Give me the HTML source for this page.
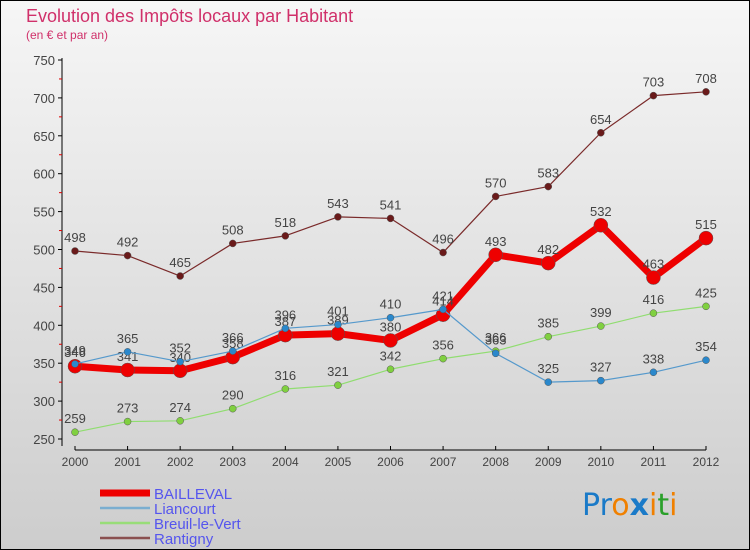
<!DOCTYPE html>
<html><head><meta charset="utf-8"><style>
body{margin:0}
svg{display:block;font-family:"Liberation Sans",sans-serif}
</style></head><body>
<svg width="750" height="550" viewBox="0 0 750 550">
<defs><linearGradient id="bg" x1="0" y1="0" x2="0" y2="1"><stop offset="0" stop-color="#f6f6f6"/><stop offset="1" stop-color="#cdcdcd"/></linearGradient></defs>
<rect x="0.5" y="0.5" width="749" height="549" fill="url(#bg)" stroke="#000"/>
<text x="26" y="22" font-size="18" fill="#d0306a">Evolution des Impôts locaux par Habitant</text>
<text x="26" y="39" font-size="12" fill="#d0306a">(en € et par an)</text>
<g id="axes"></g>
<g id="series"></g>
<g id="legend" font-size="15" fill="#5555ee"></g>
<text x="582" y="515" font-size="30" font-family="DejaVu Sans"><tspan fill="#1a7ac8">Pr</tspan><tspan fill="#f08000">o</tspan><tspan fill="#1a7ac8" font-weight="bold">x</tspan><tspan fill="#f08000">i</tspan><tspan fill="#2aa02a">t</tspan><tspan fill="#f08000">i</tspan></text>
</svg>
<script>
const years=[2000,2001,2002,2003,2004,2005,2006,2007,2008,2009,2010,2011,2012];
const yTicks=[250,300,350,400,450,500,550,600,650,700,750];
const bailleval=[346,341,340,358,387,389,380,414,493,482,532,463,515];
const liancourt=[349,365,352,366,396,401,410,421,363,325,327,338,354];
const breuil=[259,273,274,290,316,321,342,356,366,385,399,416,425];
const rantigny=[498,492,465,508,518,543,541,496,570,583,654,703,708];
const NS='http://www.w3.org/2000/svg';
const X=i=>75+i*(706-75)/(years.length-1);
const Y=v=>60+(750-v)*(439-60)/500;
function el(t,a,p){const e=document.createElementNS(NS,t);for(const k in a)e.setAttribute(k,a[k]);p.appendChild(e);return e;}
const ax=document.getElementById('axes');
let l=el('line',{x1:62,y1:58,x2:62,y2:446,stroke:'#000'},ax);


l=el('line',{x1:75,y1:450,x2:706,y2:450,stroke:'#000'},ax);


yTicks.forEach((v,i)=>{
  el('line',{x1:58,y1:Y(v),x2:62,y2:Y(v),stroke:'#000'},ax);
  if(i<yTicks.length-1)el('line',{x1:59,y1:Y(v+25),x2:62,y2:Y(v+25),stroke:'#d00'},ax);
  const t=el('text',{x:55,y:Y(v)+5,'text-anchor':'end','font-size':13,fill:'#444'},ax);
  
  
  t.textContent=v;
});
years.forEach((y,i)=>{
  el('line',{x1:X(i),y1:446,x2:X(i),y2:450,stroke:'#000'},ax);
  const t=el('text',{x:X(i),y:466,'text-anchor':'middle','font-size':12,fill:'#444'},ax);
  
  
  t.textContent=y;
});
const sg=document.getElementById('series');
function series(data,name,color,w,r,dot){
  const g=el('g',{},sg);
  
  
  const p=el('polyline',{points:data.map((v,i)=>X(i)+','+Y(v)).join(' '),fill:'none',stroke:color,'stroke-width':w,'stroke-linejoin':'round'},g);
  
  
  data.forEach((v,i)=>{
    const c=el('circle',{cx:X(i),cy:Y(v),r:r,fill:dot,stroke:'#555','stroke-width':0.5},g);
    
    
    const t=el('text',{x:X(i),y:Y(v)-9,'text-anchor':'middle','font-size':13,fill:'#444'},g);
    
    
    t.textContent=v;
  });
}
series(rantigny,'rantigny','#7a2a2a',1.2,3.5,'#6a1a1a');
series(breuil,'breuil-le-vert','#90dd70',1.2,3.5,'#80d040');
series(bailleval,'bailleval','#ee0000',7,7,'#ee0000');
series(liancourt,'liancourt','#5599cc',1.2,3.5,'#2a88cc');
const lg=document.getElementById('legend');
[['BAILLEVAL','#ee0000',7],['Liancourt','#7aaed0',2.5],['Breuil-le-Vert','#98dd78',2.5],['Rantigny','#8a5050',2.5]].forEach((d,i)=>{
  const y=499+i*15;
  const ln=el('line',{x1:100,y1:y-6,x2:150,y2:y-6,stroke:d[1],'stroke-width':d[2]},lg);
  
  
  const t=el('text',{x:154,y:y},lg);
  
  
  t.textContent=d[0];
});
</script>
</body></html>
